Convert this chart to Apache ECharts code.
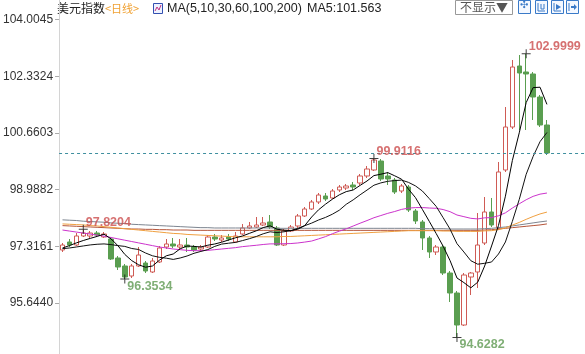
<!DOCTYPE html>
<html>
<head>
<meta charset="utf-8">
<script src="https://cdn.jsdelivr.net/npm/echarts@6/dist/echarts.min.js"></script>
<style>
html,body{margin:0;padding:0;background:#fff;}
#c{width:585px;height:354px;}
</style>
</head>
<body>
<div id="c"></div>
<script>
// ---- data ----
const opens = [97.211,97.447,97.358,97.624,97.624,97.712,97.594,97.535,96.975,96.739,
96.444,96.739,96.827,96.562,96.857,97.299,97.388,97.299,97.358,97.299,
97.240,97.299,97.594,97.506,97.594,97.447,97.683,97.860,97.889,97.948,
98.037,97.860,97.358,97.771,97.919,98.214,98.420,98.627,98.804,98.745,
98.981,99.040,99.128,99.187,99.394,99.571,99.836,99.394,99.276,98.951,
99.069,98.361,98.037,97.565,97.152,97.299,96.532,95.942,94.998,96.414,
96.562,97.417,98.332,97.860,99.571,100.839,102.639,102.462,102.403,101.724,100.898];
const closes = [97.358,97.358,97.624,97.712,97.712,97.653,97.683,96.945,96.709,96.414,
96.739,97.063,96.591,96.886,97.270,97.388,97.329,97.358,97.299,97.211,
97.299,97.594,97.535,97.565,97.535,97.624,97.860,97.919,97.948,98.007,
97.889,97.358,97.771,97.889,98.214,98.420,98.627,98.833,98.715,98.951,
99.069,99.099,99.069,99.394,99.600,99.866,99.305,99.305,98.922,99.099,
98.391,98.066,97.565,97.152,97.299,96.532,95.942,94.998,96.473,96.532,
97.358,98.332,97.948,99.512,100.839,102.609,102.432,102.403,101.724,100.898,100.072];
const lows = [97.152,97.299,97.329,97.594,97.565,97.594,97.565,96.916,96.621,96.3534,
96.385,96.709,96.532,96.532,96.827,97.240,97.270,97.240,97.152,97.152,
97.181,97.270,97.476,97.447,97.476,97.417,97.653,97.830,97.860,97.919,
97.830,97.329,97.329,97.742,97.860,98.184,98.391,98.568,98.656,98.715,
98.922,98.981,98.981,99.128,99.335,99.541,99.246,99.128,98.863,98.892,
98.332,97.978,97.211,96.975,97.063,96.473,95.677,94.6282,94.969,95.883,
96.090,97.358,97.889,97.801,99.512,100.780,100.751,100.751,101.046,100.839,100.013];
const highs = [97.417,97.535,97.712,97.8204,97.771,97.771,97.742,97.594,97.034,96.798,
96.798,97.299,96.886,96.975,97.329,97.535,97.565,97.535,97.565,97.358,
97.358,97.653,97.683,97.653,97.683,97.742,97.978,98.037,98.184,98.184,
98.243,97.919,97.830,97.948,98.273,98.479,98.686,98.892,98.892,99.010,
99.128,99.158,99.217,99.453,99.689,99.9116,99.895,99.512,99.335,99.158,
99.128,98.420,98.096,97.624,97.358,97.358,96.591,96.001,96.532,96.562,
98.302,98.774,98.745,99.807,101.429,102.816,102.963,102.9999,102.462,101.783,101.046];

const ma5 = [97.27,97.34,97.42,97.49,97.553,97.612,97.677,97.541,97.340,97.081,
96.898,96.774,96.703,96.739,96.910,97.040,97.093,97.246,97.329,97.317,
97.299,97.352,97.388,97.441,97.506,97.571,97.624,97.701,97.777,97.872,
97.925,97.824,97.795,97.783,97.824,97.930,98.184,98.397,98.562,98.709,
98.839,98.933,98.981,99.116,99.246,99.406,99.447,99.494,99.400,99.299,
99.004,98.757,98.409,98.055,97.695,97.323,96.898,96.385,96.249,96.095,
96.261,96.739,97.329,97.936,98.798,99.848,100.668,101.559,102.001,102.013,101.506];
const ma10 = [97.25,97.27,97.30,97.33,97.36,97.38,97.39,97.37,97.34,97.317,
97.255,97.225,97.122,97.040,96.995,96.969,96.933,96.975,97.034,97.113,
97.169,97.223,97.317,97.385,97.411,97.435,97.488,97.544,97.609,97.689,
97.748,97.724,97.748,97.780,97.848,97.928,98.004,98.096,98.172,98.267,
98.385,98.559,98.689,98.839,98.978,99.122,99.190,99.237,99.258,99.273,
99.205,99.102,98.951,98.727,98.497,98.164,97.827,97.397,97.152,96.895,
96.792,96.818,96.857,97.093,97.447,98.054,98.703,99.444,99.969,100.406,100.677];
const ma30 = [97.80,97.77,97.74,97.71,97.68,97.65,97.62,97.58,97.54,97.50,
97.46,97.42,97.38,97.34,97.30,97.27,97.24,97.22,97.20,97.19,
97.19,97.20,97.22,97.24,97.26,97.28,97.31,97.33,97.35,97.373,
97.391,97.391,97.396,97.401,97.418,97.444,97.475,97.538,97.605,97.690,
97.767,97.835,97.918,98.001,98.079,98.162,98.227,98.292,98.346,98.409,
98.446,98.462,98.463,98.449,98.441,98.404,98.341,98.243,98.194,98.145,
98.127,98.160,98.166,98.220,98.307,98.447,98.574,98.693,98.793,98.858,98.891];
const ma60 = [97.98,97.97,97.96,97.95,97.93,97.92,97.90,97.88,97.86,97.84,
97.82,97.80,97.78,97.76,97.74,97.72,97.70,97.69,97.67,97.66,
97.65,97.64,97.63,97.62,97.61,97.60,97.60,97.60,97.60,97.60,
97.60,97.60,97.61,97.61,97.62,97.63,97.64,97.65,97.66,97.67,
97.68,97.69,97.70,97.71,97.72,97.73,97.74,97.75,97.76,97.77,
97.78,97.78,97.78,97.78,97.78,97.77,97.77,97.76,97.76,97.759,
97.759,97.775,97.781,97.811,97.863,97.945,98.024,98.115,98.199,98.274,98.329];
const ma100 = [98.10,98.09,98.08,98.06,98.05,98.04,98.03,98.01,98.00,97.99,
97.97,97.96,97.95,97.94,97.93,97.92,97.91,97.90,97.89,97.88,
97.87,97.87,97.86,97.86,97.86,97.86,97.86,97.86,97.86,97.86,
97.86,97.85,97.85,97.85,97.85,97.85,97.85,97.85,97.85,97.85,
97.85,97.85,97.85,97.85,97.85,97.85,97.85,97.85,97.85,97.85,
97.85,97.85,97.84,97.84,97.84,97.84,97.83,97.83,97.83,97.83,
97.83,97.84,97.85,97.87,97.89,97.92,97.95,97.98,98.01,98.04,98.066];
const ma200 = [97.93,97.92,97.91,97.90,97.89,97.88,97.87,97.86,97.85,97.84,
97.83,97.83,97.82,97.82,97.81,97.81,97.80,97.80,97.80,97.79,
97.79,97.79,97.79,97.79,97.79,97.79,97.79,97.79,97.79,97.79,
97.79,97.79,97.79,97.79,97.79,97.79,97.79,97.79,97.79,97.79,
97.79,97.79,97.79,97.79,97.79,97.79,97.79,97.79,97.79,97.79,
97.79,97.79,97.79,97.79,97.79,97.79,97.79,97.79,97.79,97.79,
97.79,97.80,97.81,97.83,97.85,97.87,97.89,97.91,97.93,97.95,97.98];

const markIdx = [3, 9, 45, 57, 67];
const markVal = [97.8204, 96.3534, 99.9116, 94.6282, 102.9999];
const markKind = ['high', 'low', 'high', 'low', 'high'];

const yTicks = [95.6440, 97.3161, 98.9882, 100.6603, 102.3324, 104.0045];
const yMin = 94.1426, yMax = 104.5856;
const slotCount = 76;
const categories = Array.from({length: slotCount}, (_, i) => String(i + 1));

// ---- build chart ----
const FONT = '"Liberation Sans", Arial, "Noto Sans CJK SC", sans-serif';
const UP = '#cf5b55', DOWN = '#5a9e50';
const candleData = opens.map((o, i) => [o, closes[i], lows[i], highs[i]]);
const markData = markIdx.map((idx, k) => ({
  value: [idx, markVal[k]],
  label: {
    offset: markKind[k] === 'high' ? [-5, -7] : [-5, 7],
    color: markKind[k] === 'high' ? '#cc4e4e' : '#5f9a52'
  }
}));

const maDefs = [
  ['MA200', ma200, '#b5553a'],
  ['MA100', ma100, '#7d8590'],
  ['MA60', ma60, '#f0a040'],
  ['MA30', ma30, '#cc33cc'],
  ['MA10', ma10, '#111111'],
  ['MA5', ma5, '#000000']
];

const chart = echarts.init(document.getElementById('c'), null, {renderer: 'canvas'});
chart.setOption({
  animation: false,
  backgroundColor: '#ffffff',
  grid: [
    {left: 55, top: 0, width: 532, height: 354},
    {left: 0, top: 0, right: 0, bottom: 0}
  ],
  xAxis: [
    {type: 'category', data: categories, boundaryGap: true, show: false},
    {type: 'value', gridIndex: 1, show: false}
  ],
  yAxis: [
    {
      type: 'value', min: yMin, max: yMax, position: 'left',
      axisLine: {show: true, lineStyle: {color: '#d4d4d4'}},
      axisTick: {show: true, length: 4, customValues: yTicks, lineStyle: {color: '#aaaaaa'}},
      axisLabel: {customValues: yTicks, formatter: v => Number(v).toFixed(4), color: '#333333',
        fontSize: 12, margin: 6, fontFamily: FONT},
      splitLine: {show: false}
    },
    {
      type: 'value', gridIndex: 1, min: yMin, max: yMax, position: 'right',
      axisLine: {show: false},
      axisTick: {show: true, inside: true, length: 4, customValues: yTicks, lineStyle: {color: '#f3c99a'}},
      axisLabel: {show: false},
      splitLine: {show: false}
    }
  ],
  series: [
    {
      type: 'candlestick', data: candleData, barWidth: 5, z: 2,
      itemStyle: {color: '#ffffff', color0: DOWN, borderColor: UP, borderColor0: DOWN, borderWidth: 1},
      markLine: {
        symbol: 'none', silent: true, label: {show: false},
        lineStyle: {color: '#3f8f9f', type: [3, 3], width: 1},
        data: [{yAxis: closes[closes.length - 1]}]
      }
    },
    ...maDefs.map(([name, arr, col]) => ({
      type: 'line', name: name, data: arr, showSymbol: false, z: 3,
      lineStyle: {color: col, width: 1}, itemStyle: {color: col}
    })),
    {
      type: 'scatter', data: markData, z: 5,
      symbol: 'path://M0,4L9,4L9,5L0,5Z M4,0L5,0L5,9L4,9Z', symbolSize: 9,
      itemStyle: {color: '#111111'},
      label: {show: true, position: 'right', distance: 3, fontSize: 12.5, fontWeight: 'bold',
        fontFamily: FONT, formatter: p => p.value[1].toFixed(4)}
    }
  ],
  graphic: [
    {type: 'text', left: 57, top: 2, style: {text: '美元指数', fontSize: 12, fontFamily: '"Noto Sans CJK SC", sans-serif', fill: '#222222'}},
    {type: 'text', left: 105, top: 3, style: {text: '<日线>', fontSize: 11, fontFamily: '"Noto Sans CJK SC", sans-serif', fill: '#f0a030'}},
    {type: 'rect', shape: {x: 153.5, y: 3.5, width: 9, height: 10}, style: {fill: '#eef2ff', stroke: '#3350b0', lineWidth: 1}},
    {type: 'polyline', shape: {points: [[155, 11], [157, 7], [159, 10], [161, 5]]}, style: {stroke: '#c03080', lineWidth: 1, fill: null}},
    {type: 'text', left: 167, top: 2, style: {text: 'MA(5,10,30,60,100,200)', fontSize: 12.5, fontFamily: FONT, fill: '#222222'}},
    {type: 'text', left: 307, top: 2, style: {text: 'MA5:101.563', fontSize: 12.5, fontFamily: FONT, fill: '#222222'}},
    {type: 'rect', shape: {x: 455.5, y: 0.5, width: 57, height: 14}, style: {fill: '#ffffff', stroke: '#999999', lineWidth: 1}},
    {type: 'text', left: 460, top: 1, style: {text: '不显示▼', fontSize: 12, fontFamily: '"Noto Sans CJK SC", sans-serif', fill: '#555555'}},
    {type: 'rect', shape: {x: 518.5, y: 0.5, width: 12, height: 13}, style: {fill: '#f4f8ff', stroke: '#3a7ac8', lineWidth: 1}},
    {type: 'text', left: 520, top: 0, style: {text: '✣', fontSize: 10, fill: '#3a7ac8'}},
    {type: 'rect', shape: {x: 535.5, y: 0.5, width: 12, height: 13}, style: {fill: '#f4f8ff', stroke: '#3a7ac8', lineWidth: 1}},
    {type: 'polyline', shape: {points: [[538, 3], [538, 11], [545, 11]]}, style: {stroke: '#3a7ac8', lineWidth: 1, fill: null}},
    {type: 'polyline', shape: {points: [[541, 4], [541, 9], [544, 9], [544, 4]]}, style: {stroke: '#3a7ac8', lineWidth: 1, fill: null}},
    {type: 'rect', shape: {x: 551.5, y: 0.5, width: 12, height: 13}, style: {fill: '#f4f8ff', stroke: '#3a7ac8', lineWidth: 1}},
    {type: 'polyline', shape: {points: [[554, 3], [554, 11], [561, 11]]}, style: {stroke: '#3a7ac8', lineWidth: 1, fill: null}},
    {type: 'polygon', shape: {points: [[556, 4], [561, 7], [556, 10]]}, style: {fill: '#3a7ac8'}},
    {type: 'rect', shape: {x: 566.5, y: 0.5, width: 12, height: 13}, style: {fill: '#f4f8ff', stroke: '#3a7ac8', lineWidth: 1}},
    {type: 'polyline', shape: {points: [[569, 3], [569, 11]]}, style: {stroke: '#3a7ac8', lineWidth: 1, fill: null}},
    {type: 'polygon', shape: {points: [[571, 6], [574, 6], [574, 4], [577, 7], [574, 10], [574, 8], [571, 8]]}, style: {fill: '#3a7ac8'}}
  ]
});
</script>
</body>
</html>
